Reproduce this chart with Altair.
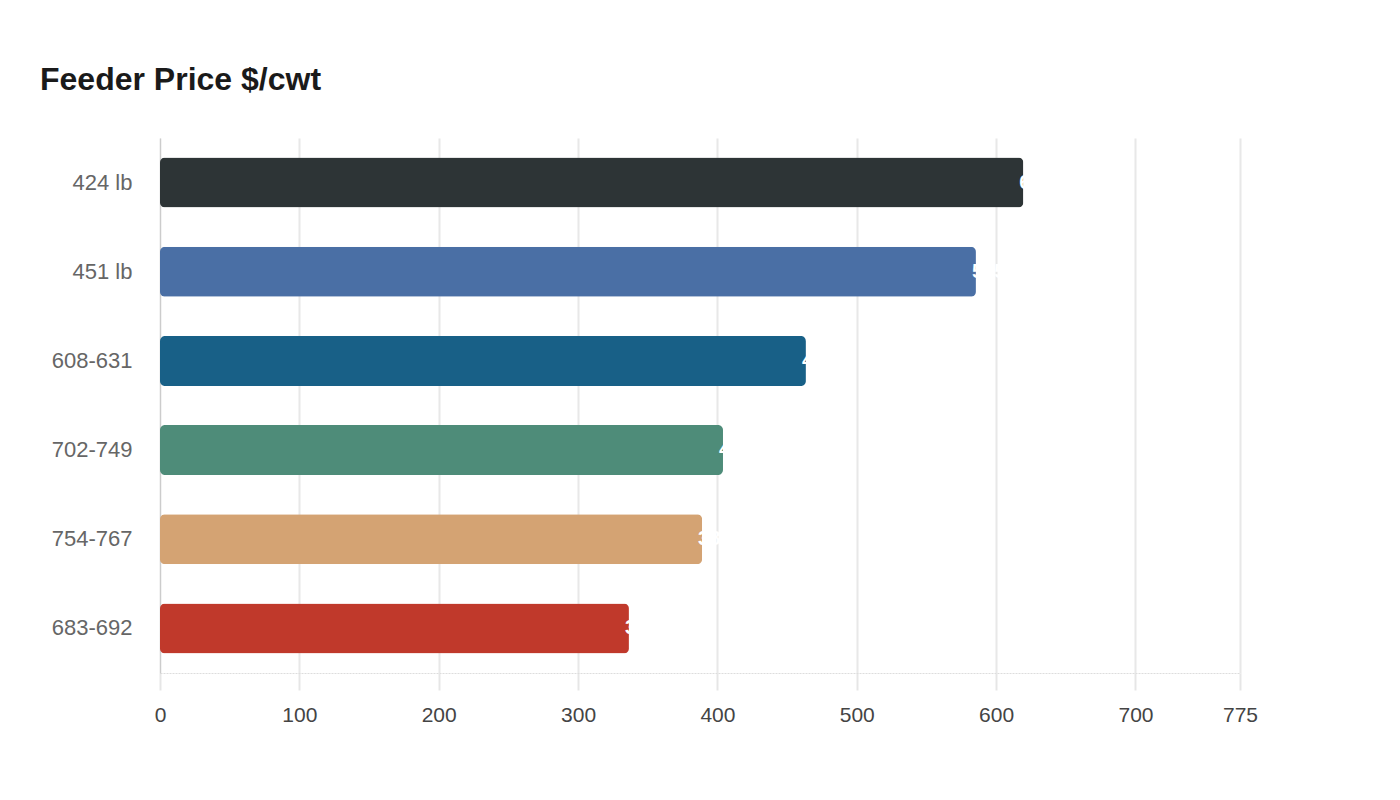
import altair as alt
import pandas as pd

categories = ["424 lb", "451 lb", "608-631", "702-749", "754-767", "683-692"]
prices = [619.5, 585.5, 463.5, 404.0, 389.0, 336.5]
colors = ["#2d3436", "#4a6fa5", "#186087", "#4e8c79", "#d4a373", "#c0392b"]
tick_values = [0, 100, 200, 300, 400, 500, 600, 700, 775]

df = pd.DataFrame({"cat": categories, "price": prices, "color": colors,
                   "label": [f"{p:g}" for p in prices]})

y = alt.Y("cat:N", sort=categories, title=None,
          scale=alt.Scale(paddingInner=0.44, paddingOuter=0.22),
          axis=alt.Axis(labelFontSize=22, labelColor="#666666", labelFont="Liberation Sans",
                        ticks=False, labelPadding=28, domainColor="#cccccc", grid=False))
x = alt.X("price:Q", title=None,
          scale=alt.Scale(domain=[0, 775], nice=False, zero=True),
          axis=alt.Axis(values=tick_values, labelFontSize=21, labelColor="#444444",
                        labelFont="Liberation Sans", tickSize=17, tickColor="#e6e6e6",
                        tickWidth=2, labelFlush=False,
                        domainColor="#dddddd", domainDash=[2, 1], gridColor="#e8e8e8",
                        gridWidth=2, labelPadding=14, labelOverlap=False))

bars = alt.Chart(df).mark_bar(cornerRadius=5).encode(
    x=x, y=y, color=alt.Color("color:N", scale=None))

labels = alt.Chart(df).mark_text(align="left", dx=-4, color="white", fontSize=20,
                                 fontWeight="bold", font="Liberation Sans").encode(
    x="price:Q", y=alt.Y("cat:N", sort=categories), text="label:N")

chart = (bars + labels).properties(
    width=1080, height=535,
    autosize=alt.AutoSizeParams(type="none"),
    padding={"left": 152, "top": 130, "right": 120, "bottom": 100},
    title=alt.TitleParams("Feeder Price $/cwt", anchor="start", frame="group", dx=-120,
                          offset=41, fontSize=32, font="Liberation Sans", fontWeight="bold",
                          color="#1a1a1a"),
).configure_view(stroke=None)

chart.save("out.html", embed_options={"renderer": "svg", "actions": False})
